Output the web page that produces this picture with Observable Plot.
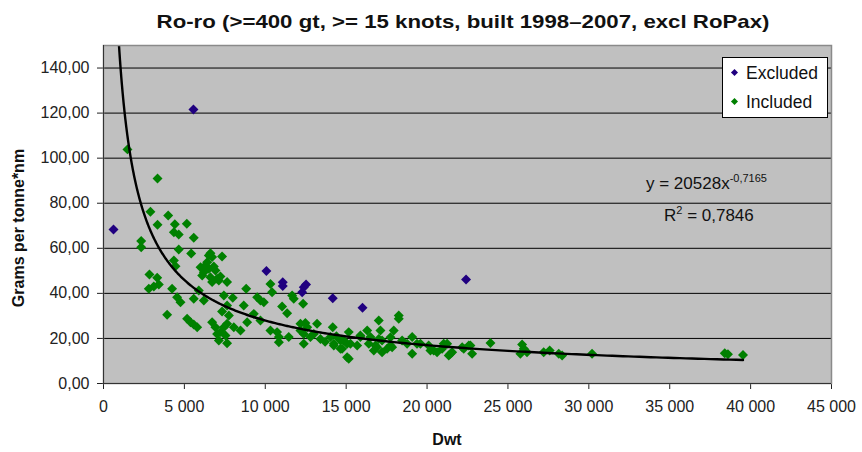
<!DOCTYPE html>
<html>
<head>
<meta charset="utf-8">
<script src="https://cdn.jsdelivr.net/npm/d3@7"></script>
<script src="https://cdn.jsdelivr.net/npm/@observablehq/plot@0.6"></script>
<style>
  html, body { margin: 0; padding: 0; background: #fff; }
  #wrap { position: relative; width: 862px; height: 452px; font-family: "Liberation Sans", Arial, sans-serif; color: #111; }
  #title { position: absolute; top: 11px; left: 463px; transform: translateX(-50%) scaleX(1.17); white-space: nowrap; font-weight: bold; font-size: 19px; }
  #ylab { position: absolute; left: 19px; top: 228px; transform: translate(-50%, -50%) rotate(-90deg); font-weight: bold; font-size: 16px; white-space: nowrap; }
  #xlab { position: absolute; left: 447px; top: 431px; transform: translateX(-50%); font-weight: bold; font-size: 16px; }
  #legend { position: absolute; left: 722px; top: 57px; width: 104px; height: 59px; background: #fff; border: 1px solid #000; font-size: 17.5px; }
  .li { position: absolute; left: 9px; height: 22px; line-height: 22px; white-space: nowrap; }
  .mk { display: inline-block; width: 5px; height: 5px; transform: rotate(45deg); margin-right: 9px; vertical-align: middle; position: relative; top: -2px; }
  #eq { position: absolute; left: 646px; top: 165px; font-size: 17px; line-height: 26px; white-space: nowrap; }
  #eq sup { font-size: 11px; vertical-align: 7px; }
</style>
</head>
<body>
<div id="wrap">
  <div id="chart"></div>
  <div id="title">Ro-ro (&gt;=400 gt, &gt;= 15 knots, built 1998–2007, excl RoPax)</div>
  <div id="ylab">Grams per tonne*nm</div>
  <div id="xlab">Dwt</div>
  <div id="legend">
    <div class="li" style="top:4px"><span class="mk" style="background:#200080"></span>Excluded</div>
    <div class="li" style="top:33px"><span class="mk" style="background:#008000"></span>Included</div>
  </div>
  <div id="eq">
    <div>y = 20528x<sup>-0,7165</sup></div>
    <div style="padding-left:18px">R<sup>2</sup> = 0,7846</div>
  </div>
</div>
<script>
const seriesNames = ["Excluded", "Included"];
const seriesColors = ["#200080", "#008000"];

const excludedX = [618, 5560, 10070, 11080, 11080, 12280, 12380, 12520, 14170, 16010, 22410];
const excludedY = [68.3, 121.6, 49.9, 44.9, 43.3, 40.5, 42.7, 43.9, 37.8, 33.6, 46.2];

const includedX = [1480, 3340, 2900, 4000, 3340, 4410, 5150, 4350, 4650, 5580, 2330, 2330, 4650, 5420, 4350, 4450, 2840, 3320, 3420, 2800,
  3110, 4240, 4550, 4760, 3935, 5170, 5380, 5580, 5790, 5890, 6200, 5580, 6610, 6715, 7330, 6410, 6000, 6820, 6200, 6610,
  7025, 7230, 7640, 6510, 6300, 6920, 6510, 6100, 6715, 7130, 6715, 6920, 7230, 7130, 7640, 7540, 7750, 8055, 8470, 7025,
  7440, 7440, 7640, 7990, 8670, 8820, 8880, 9290, 9500, 9700, 9910, 9700, 10320, 10420, 10320, 10730, 10840, 11040, 11350, 11660,
  11760, 12340, 12175, 12380, 12590, 12790, 13200, 13410, 13000, 14170, 14235, 14650, 15060, 15060, 12380, 11450, 10840, 7330, 7640, 12175,
  14235, 14650, 14750, 14030, 12480, 15160, 14850, 15880, 16500, 17015, 17120, 16910, 17940, 17740, 18250, 18250, 18460, 19080, 19080, 19590,
  20410, 21240, 21445, 22270, 22680, 22785, 23920, 15680, 15265, 15160, 15880, 16400, 16810, 17220, 17530, 17015, 17840, 18770, 19380, 20100,
  20210, 20620, 20930, 21030, 21340, 21550, 22170, 22580, 16710, 17220, 16300, 17740, 25875, 25770, 25980, 26180, 27210, 27580, 28140, 28350,
  30200, 38400, 38600, 39530, 13700, 14400];
const includedY = [103.9, 91.0, 76.2, 74.6, 70.4, 70.7, 70.9, 67.1, 66.1, 64.7, 63.2, 60.5, 59.5, 57.7, 54.6, 52.0, 48.4, 46.9, 43.9, 42.0,
  43.0, 42.0, 38.3, 36.1, 30.5, 28.7, 27.2, 26.2, 25.0, 41.3, 36.8, 37.6, 57.8, 56.1, 56.4, 53.8, 51.6, 51.9, 49.4, 47.2,
  46.5, 47.5, 45.0, 56.8, 52.4, 50.1, 50.9, 47.9, 45.0, 45.7, 27.2, 25.0, 22.8, 19.1, 17.9, 21.3, 30.2, 25.0, 23.5, 22.0,
  25.0, 39.1, 34.6, 38.0, 34.6, 42.0, 27.2, 30.9, 38.3, 36.8, 36.1, 28.0, 44.2, 40.5, 23.5, 22.8, 18.3, 34.2, 31.2, 39.1,
  37.6, 35.4, 26.5, 22.0, 25.0, 20.6, 26.5, 19.8, 22.0, 25.0, 17.6, 19.1, 17.6, 11.7, 17.6, 20.6, 20.6, 32.0, 26.5, 23.5,
  16.9, 15.4, 15.4, 20.6, 26.8, 22.8, 19.1, 20.6, 20.6, 28.0, 23.5, 16.1, 23.5, 16.9, 30.2, 28.7, 19.1, 20.6, 13.2, 17.6,
  14.6, 17.6, 13.2, 15.4, 16.9, 13.2, 18.0, 16.9, 17.6, 11.0, 21.3, 17.6, 16.9, 19.1, 15.4, 19.8, 16.1, 17.6, 17.6, 16.9,
  14.6, 13.9, 15.4, 17.6, 12.4, 13.9, 16.1, 16.9, 14.6, 13.9, 23.5, 20.5, 17.3, 13.2, 15.4, 13.9, 13.9, 14.6, 13.2, 12.4,
  13.2, 13.4, 13.0, 12.7, 18.5, 21.0];

// Power trendline shown in chart: y = 20528 x^-0.7165
const trendCoef = 20528;
const trendExp = -0.7165;

const xTicks = [0, 5000, 10000, 15000, 20000, 25000, 30000, 35000, 40000, 45000];
const yTicks = [0, 20, 40, 60, 80, 100, 120, 140];

const excluded = excludedX.map((x, i) => ({x, y: excludedY[i], s: seriesNames[0]}));
const included = includedX.map((x, i) => ({x, y: includedY[i], s: seriesNames[1]}));
const allX = excludedX.concat(includedX);
const xMin = d3.min(allX), xMax = d3.max(allX);
const trend = d3.range(0, 401).map(i => {
  const x = xMin * Math.pow(xMax / xMin, i / 400);
  return {x, y: trendCoef * Math.pow(x, trendExp)};
});

const loc = d3.formatLocale({decimal: ",", thousands: " ", grouping: [3], currency: ["", ""]});
const fx = loc.format(",");
const fy = loc.format(".2f");

const chart = Plot.plot({
  width: 862,
  height: 452,
  marginLeft: 103,
  marginRight: 31,
  marginTop: 45,
  marginBottom: 69,
  style: {fontFamily: "'Liberation Sans', Arial, sans-serif", fontSize: "16px", color: "#222", background: "transparent"},
  x: {domain: [0, 45000], ticks: xTicks, tickFormat: fx, tickSize: 6, tickPadding: 11, label: null},
  y: {domain: [0, 150], ticks: yTicks, tickFormat: fy, tickSize: 6, tickPadding: 8, label: null},
  marks: [
    Plot.frame({fill: "#C0C0C0", stroke: null}),
    Plot.ruleY(yTicks.filter(d => d > 0), {stroke: "#000", strokeWidth: 1}),
    Plot.dot(included, {x: "x", y: "y", symbol: "diamond2", r: 4.5, fill: seriesColors[1], stroke: null}),
    Plot.dot(excluded, {x: "x", y: "y", symbol: "diamond2", r: 4.5, fill: seriesColors[0], stroke: null}),
    Plot.line(trend, {x: "x", y: "y", stroke: "#000", strokeWidth: 2.4, clip: true}),
    Plot.frame({stroke: "#8a8a8a", strokeWidth: 1.5}),
    Plot.ruleX([0], {stroke: "#333"}),
    Plot.ruleY([0], {stroke: "#333"})
  ]
});
document.getElementById("chart").appendChild(chart);
</script>
</body>
</html>
